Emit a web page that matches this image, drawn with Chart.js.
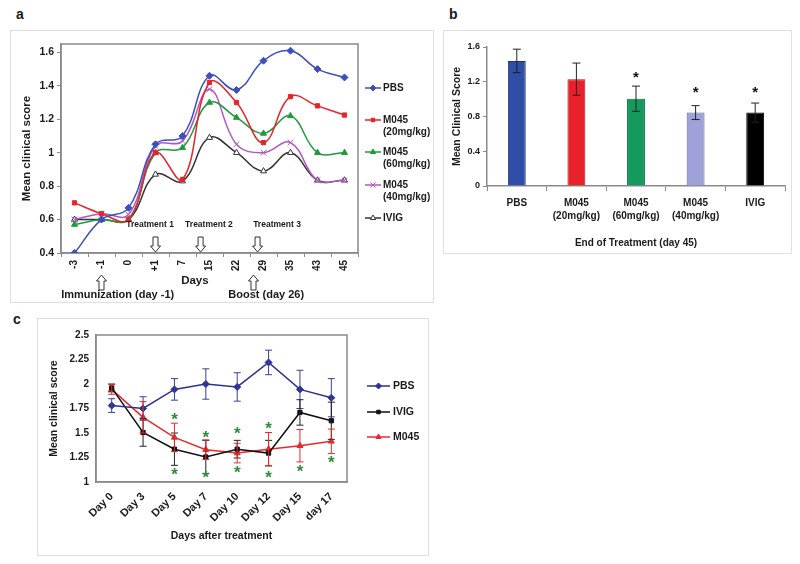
<!DOCTYPE html>
<html>
<head>
<meta charset="utf-8">
<script src="https://cdn.jsdelivr.net/npm/chart.js@4.4.0/dist/chart.umd.min.js"></script>
<style>
body { margin: 0; width: 800px; height: 564px; background: #fff; position: relative; overflow: hidden;
       font-family: 'Liberation Sans', Arial, sans-serif; }
.frame { position: absolute; border: 1px solid #e0e0e0; box-sizing: border-box; }
.tag { position: absolute; font-weight: bold; font-size: 14px; color: #1a1a1a; }
canvas { position: absolute; display: block; }
</style>
</head>
<body>
<div class="tag" style="left:16px;top:6px">a</div>
<div class="tag" style="left:449px;top:6px">b</div>
<div class="tag" style="left:13px;top:311px">c</div>

<div class="frame" style="left:10px;top:30px;width:424px;height:273px"></div>
<div class="frame" style="left:443px;top:30px;width:349px;height:224px"></div>
<div class="frame" style="left:37px;top:318px;width:392px;height:238px"></div>

<canvas id="chartA" width="424" height="273" style="left:10px;top:30px"></canvas>
<canvas id="chartB" width="348" height="223" style="left:443px;top:30px"></canvas>
<canvas id="chartC" width="391" height="237" style="left:37px;top:318px"></canvas>

<script>
// panel a - clinical score over time
const daysA = ['-3', '-1', '0', '+1', '7', '15', '22', '29', '35', '43', '45'];
const pbsA  = [0.40, 0.60, 0.67, 1.05, 1.10, 1.46, 1.375, 1.55, 1.61, 1.50, 1.45];
const m20A  = [0.70, 0.635, 0.60, 1.00, 0.84, 1.42, 1.30, 1.06, 1.335, 1.28, 1.225];
const m60A  = [0.57, 0.60, 0.60, 1.00, 1.03, 1.30, 1.21, 1.115, 1.22, 1.00, 1.00];
const m40A  = [0.60, 0.635, 0.63, 1.04, 1.07, 1.38, 1.05, 1.00, 1.06, 0.835, 0.835];
const ivigA = [0.60, 0.60, 0.60, 0.87, 0.83, 1.09, 1.00, 0.89, 1.00, 0.835, 0.835];
const yTicksA = [0.4, 0.6, 0.8, 1, 1.2, 1.4, 1.6];

// panel b - end of treatment
const groupsB = [['PBS'], ['M045', '(20mg/kg)'], ['M045', '(60mg/kg)'], ['M045', '(40mg/kg)'], ['IVIG']];
const meansB  = [1.44, 1.23, 1.005, 0.845, 0.845];
const errorsB = [0.135, 0.185, 0.145, 0.08, 0.11];
const starsB  = [null, null, 1.275, 1.10, 1.10];
const yTicksB = [0, 0.4, 0.8, 1.2, 1.6];

// panel c - days after treatment
const daysC = ['Day 0', 'Day 3', 'Day 5', 'Day 7', 'Day 10', 'Day 12', 'Day 15', 'day 17'];
const pbsC     = [1.78, 1.75, 1.945, 2.00, 1.97, 2.22, 1.945, 1.86];
const pbsErrC  = [0.07, 0.12, 0.11, 0.155, 0.145, 0.125, 0.195, 0.195];
const ivigC    = [1.96, 1.505, 1.335, 1.255, 1.335, 1.295, 1.71, 1.625];
const ivigErrC = [0.04, 0.14, 0.165, 0.17, 0.09, 0.13, 0.13, 0.19];
const m045C    = [1.945, 1.66, 1.455, 1.33, 1.295, 1.335, 1.37, 1.415];
const m045ErrC = [0.05, 0.16, 0.145, 0.10, 0.10, 0.17, 0.165, 0.125];
const starsTopC    = [null, null, 1.67, 1.48, 1.53, 1.575, null, null];
const starsBottomC = [null, null, 1.11, 1.08, 1.13, 1.075, 1.136, 1.23];
const yTicksC = [1, 1.25, 1.5, 1.75, 2, 2.25, 2.5];

// annotations for panel a, x given as category position
const treatNotesA = [
    { text: 'Treatment 1', textAt: 2.8, arrowAt: 3.0 },
    { text: 'Treatment 2', textAt: 4.98, arrowAt: 4.67 },
    { text: 'Treatment 3', textAt: 7.5, arrowAt: 6.78 }
];
const belowNotesA = [
    { text: 'Immunization (day -1)', textAt: 1.6, arrowAt: 1.0 },
    { text: 'Boost (day 26)', textAt: 7.1, arrowAt: 6.63 }
];

const FONT = "'Liberation Sans', Arial, sans-serif";
const AXIS = '#8a8a8a';
const INK = '#1a1a1a';

Chart.defaults.font.family = FONT;
Chart.defaults.font.weight = 'bold';
Chart.defaults.color = INK;
Chart.defaults.animation = false;
Chart.defaults.plugins.legend.display = false;
Chart.defaults.plugins.tooltip.enabled = false;

document.addEventListener('DOMContentLoaded', () => {
    initChartA();
    initChartB();
    initChartC();
});

function lineSet(label, data, color, style, radius, fill) {
    return {
        label: label,
        data: data,
        borderColor: color,
        backgroundColor: fill || color,
        pointStyle: style,
        pointRadius: radius,
        pointBorderColor: color,
        pointBackgroundColor: fill || color,
        pointBorderWidth: 1,
        borderWidth: 1.5
    };
}

function fixedTicks(list) {
    return scale => { scale.ticks = list.map(v => ({ value: v })); };
}

// grey box round the plot area
function plotFrame(color) {
    return {
        id: 'plotFrame',
        beforeDatasetsDraw(chart) {
            const a = chart.chartArea;
            const ctx = chart.ctx;
            ctx.save();
            ctx.strokeStyle = color;
            ctx.lineWidth = 1.5;
            ctx.strokeRect(a.left, a.top, a.right - a.left, a.bottom - a.top);
            ctx.restore();
        }
    };
}

function sideLegend(rows, x0, lineLen, textX, size) {
    return {
        id: 'sideLegend',
        afterDraw(chart) {
            const ctx = chart.ctx;
            chart.data.datasets.forEach((ds, i) => {
                const y = rows[i];
                ctx.save();
                ctx.strokeStyle = ds.borderColor;
                ctx.lineWidth = 1.5;
                ctx.beginPath();
                ctx.moveTo(x0, y);
                ctx.lineTo(x0 + lineLen, y);
                ctx.stroke();
                ctx.fillStyle = ds.pointBackgroundColor;
                ctx.lineWidth = 1;
                Chart.helpers.drawPoint(ctx, { pointStyle: ds.pointStyle, radius: ds.pointRadius - 0.5, rotation: 0, borderWidth: 1 }, x0 + lineLen / 2, y);
                ctx.fillStyle = INK;
                ctx.font = 'bold ' + size + 'px ' + FONT;
                ctx.textBaseline = 'middle';
                ds.label.split('\n').forEach((t, k) => ctx.fillText(t, textX, y + k * (size + 2)));
                ctx.restore();
            });
        }
    };
}

function errorBars(errs, colors, capW) {
    return {
        id: 'errorBars',
        afterDatasetsDraw(chart) {
            const ctx = chart.ctx;
            const y = chart.scales.y;
            chart.data.datasets.forEach((ds, i) => {
                const meta = chart.getDatasetMeta(i);
                ctx.save();
                ctx.strokeStyle = colors[i];
                ctx.lineWidth = 1;
                meta.data.forEach((el, j) => {
                    const e = errs[i][j];
                    const top = y.getPixelForValue(ds.data[j] + e);
                    const bot = y.getPixelForValue(ds.data[j] - e);
                    ctx.beginPath();
                    ctx.moveTo(el.x, top); ctx.lineTo(el.x, bot);
                    ctx.moveTo(el.x - capW / 2, top); ctx.lineTo(el.x + capW / 2, top);
                    ctx.moveTo(el.x - capW / 2, bot); ctx.lineTo(el.x + capW / 2, bot);
                    ctx.stroke();
                });
                ctx.restore();
            });
        }
    };
}

function starMarks(sets, color, size) {
    return {
        id: 'starMarks',
        afterDatasetsDraw(chart) {
            const ctx = chart.ctx;
            const x = chart.scales.x;
            const y = chart.scales.y;
            ctx.save();
            ctx.fillStyle = color;
            ctx.font = 'bold ' + size + 'px ' + FONT;
            ctx.textAlign = 'center';
            const m = ctx.measureText('*');
            const shift = (m.actualBoundingBoxAscent - m.actualBoundingBoxDescent) / 2;
            sets.forEach(vals => vals.forEach((v, i) => {
                if (v === null) return;
                ctx.fillText('*', x.getPixelForValue(i), y.getPixelForValue(v) + shift);
            }));
            ctx.restore();
        }
    };
}

function hollowArrow(ctx, x, tipY, dir) {
    const len = 15, head = 6, hw = 5, sw = 2.5;
    const baseY = tipY - dir * len;
    const neckY = tipY - dir * head;
    ctx.beginPath();
    ctx.moveTo(x - sw, baseY);
    ctx.lineTo(x + sw, baseY);
    ctx.lineTo(x + sw, neckY);
    ctx.lineTo(x + hw, neckY);
    ctx.lineTo(x, tipY);
    ctx.lineTo(x - hw, neckY);
    ctx.lineTo(x - sw, neckY);
    ctx.closePath();
    ctx.fillStyle = '#fff';
    ctx.fill();
    ctx.strokeStyle = '#333';
    ctx.lineWidth = 1;
    ctx.stroke();
}

const notesPluginA = {
    id: 'notesA',
    afterDraw(chart) {
        const ctx = chart.ctx;
        const x = chart.scales.x;
        const bottom = chart.chartArea.bottom;
        ctx.save();
        ctx.textAlign = 'center';
        ctx.textBaseline = 'middle';
        treatNotesA.forEach(n => {
            ctx.fillStyle = INK;
            ctx.font = 'bold 8.5px ' + FONT;
            ctx.fillText(n.text, x.getPixelForValue(n.textAt), bottom - 28);
            hollowArrow(ctx, x.getPixelForValue(n.arrowAt), bottom - 1, 1);
        });
        belowNotesA.forEach(n => {
            hollowArrow(ctx, x.getPixelForValue(n.arrowAt), bottom + 22, -1);
            ctx.fillStyle = INK;
            ctx.font = 'bold 11px ' + FONT;
            ctx.fillText(n.text, x.getPixelForValue(n.textAt), bottom + 42);
        });
        ctx.font = 'bold 11.5px ' + FONT;
        ctx.fillText('Days', x.getPixelForValue(4.46), bottom + 28);
        ctx.restore();
    }
};

function initChartA() {
    const ctx = document.getElementById('chartA').getContext('2d');
    new Chart(ctx, {
        type: 'line',
        data: {
            labels: daysA,
            datasets: [
                lineSet('PBS', pbsA, '#3d4fb8', 'rectRot', 3.5),
                lineSet('M045\n(20mg/kg)', m20A, '#e3262b', 'rect', 3),
                lineSet('M045\n(60mg/kg)', m60A, '#1f9a3c', 'triangle', 3.5),
                lineSet('M045\n(40mg/kg)', m40A, '#b256c6', 'crossRot', 4),
                lineSet('IVIG', ivigA, '#333333', 'triangle', 3.5, '#ffffff')
            ]
        },
        options: {
            responsive: false,
            layout: { padding: { left: 0, top: 14, right: 76, bottom: 0 } },
            elements: { line: { tension: 0.4 } },
            scales: {
                x: {
                    offset: true,
                    grid: { offset: true, drawOnChartArea: false, tickLength: 4, color: AXIS },
                    border: { color: AXIS, width: 1.5 },
                    ticks: { minRotation: 90, maxRotation: 90, autoSkip: false, font: { size: 10 }, padding: 3 },
                    afterFit: s => { s.height = 50; }
                },
                y: {
                    min: 0.4,
                    max: 1.65,
                    afterBuildTicks: fixedTicks(yTicksA),
                    ticks: { callback: v => String(v), font: { size: 10.5 }, padding: 3 },
                    grid: { drawOnChartArea: false, tickLength: 4, color: AXIS },
                    border: { color: AXIS, width: 1.5 },
                    title: { display: true, text: 'Mean clinical score', font: { size: 11.5 }, padding: { top: 10 } },
                    afterFit: s => { s.width = 51; }
                }
            }
        },
        plugins: [plotFrame(AXIS), sideLegend([58, 90, 122, 155, 188], 355, 16, 373, 10), notesPluginA]
    });
}

function initChartB() {
    const ctx = document.getElementById('chartB').getContext('2d');
    new Chart(ctx, {
        type: 'bar',
        data: {
            labels: groupsB,
            datasets: [{
                data: meansB,
                backgroundColor: ['#2f4ea8', '#e8212a', '#139a5c', '#9ea2d8', '#000000'],
                borderColor: ['#1d3580', '#a01515', '#0c6b3d', '#5a5f9a', '#000000'],
                borderWidth: 1,
                categoryPercentage: 1,
                barPercentage: 0.3
            }]
        },
        options: {
            responsive: false,
            layout: { padding: { left: 0, top: 17, right: 6, bottom: 0 } },
            scales: {
                x: {
                    grid: { offset: true, drawOnChartArea: false, tickLength: 5, color: AXIS },
                    border: { color: AXIS, width: 1.5 },
                    ticks: { minRotation: 0, maxRotation: 0, autoSkip: false, font: { size: 10, lineHeight: 1.35 }, padding: 5 },
                    title: { display: true, text: 'End of Treatment (day 45)', font: { size: 10 }, padding: { bottom: 4 } },
                    afterFit: s => { s.height = 67; }
                },
                y: {
                    min: 0,
                    max: 1.6,
                    afterBuildTicks: fixedTicks(yTicksB),
                    ticks: { callback: v => String(v), font: { size: 9 }, padding: 3 },
                    grid: { drawOnChartArea: false, tickLength: 4, color: AXIS },
                    border: { color: AXIS, width: 1.5 },
                    title: { display: true, text: 'Mean Clinical Score', font: { size: 10.5 }, padding: { top: 8 } },
                    afterFit: s => { s.width = 44; }
                }
            }
        },
        plugins: [errorBars([errorsB], ['#222222'], 8), starMarks([starsB], '#111111', 15)]
    });
}

function initChartC() {
    const ctx = document.getElementById('chartC').getContext('2d');
    new Chart(ctx, {
        type: 'line',
        data: {
            labels: daysC,
            datasets: [
                lineSet('PBS', pbsC, '#2d3190', 'rectRot', 3.5),
                lineSet('IVIG', ivigC, '#111111', 'rect', 3),
                lineSet('M045', m045C, '#e8292e', 'triangle', 3.5)
            ]
        },
        options: {
            responsive: false,
            layout: { padding: { left: 0, top: 17, right: 81, bottom: 0 } },
            elements: { line: { tension: 0 } },
            scales: {
                x: {
                    offset: true,
                    grid: { display: false, drawTicks: false },
                    border: { color: AXIS, width: 1.5 },
                    ticks: { minRotation: 45, maxRotation: 45, autoSkip: false, font: { size: 11 }, padding: 8 },
                    title: { display: true, text: 'Days after treatment', font: { size: 10.5 }, padding: { bottom: 13 } },
                    afterFit: s => { s.height = 73; }
                },
                y: {
                    min: 1,
                    max: 2.5,
                    afterBuildTicks: fixedTicks(yTicksC),
                    ticks: { callback: v => String(v), font: { size: 10 }, padding: 7 },
                    grid: { display: false, drawTicks: false },
                    border: { color: AXIS, width: 1.5 },
                    title: { display: true, text: 'Mean clinical score', font: { size: 10.5 }, padding: { top: 11 } },
                    afterFit: s => { s.width = 59; }
                }
            }
        },
        plugins: [
            plotFrame(AXIS),
            errorBars([pbsErrC, ivigErrC, m045ErrC], ['#3a3f9e', '#222222', '#e8292e'], 7),
            starMarks([starsTopC, starsBottomC], '#2e8b3a', 17),
            sideLegend([68, 94, 119], 330, 23, 356, 10.5)
        ]
    });
}
</script>
</body>
</html>
